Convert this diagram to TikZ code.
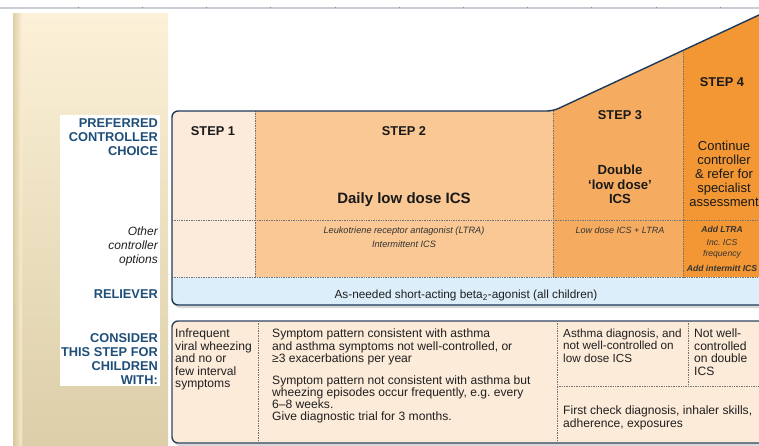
\documentclass[tikz,border=0pt]{standalone}
\usepackage{fontspec}
\setmainfont{Liberation Sans}
\frenchspacing
\newcommand\fs[2]{\fontsize{#1}{#2}\selectfont}
\definecolor{labblue}{HTML}{1F4E79}
\definecolor{navy}{HTML}{1E3A5A}
\definecolor{stepa}{HTML}{FCEADB}
\definecolor{stepb}{HTML}{F9C894}
\definecolor{stepc}{HTML}{F6AC60}
\definecolor{stepd}{HTML}{F39734}
\definecolor{relblue}{HTML}{DCEEF9}
\definecolor{botfill}{HTML}{FDEBDA}
\definecolor{panelA}{HTML}{FCF1D8}
\definecolor{panelB}{HTML}{F6EACD}
\definecolor{panelC}{HTML}{DCCEA8}
\definecolor{stripc}{HTML}{D8C699}
\definecolor{ruler}{HTML}{C9CED6}
\begin{document}
\begin{tikzpicture}[x=1pt,y=-1pt,
  labbf/.style={font=\bfseries\fs{12.8}{14}, text=labblue, align=right, inner sep=0, anchor=north east},
  labit/.style={font=\itshape\fs{12}{14}, text=black!88, align=right, inner sep=0, anchor=north east},
  steplab/.style={font=\bfseries\fs{12.8}{14}, inner sep=0, text=black!90},
  opt/.style={font=\itshape\fs{9.2}{14}, align=center, inner sep=0, anchor=north, text=black!80},
  body/.style={font=\fs{12.1}{12.5}, align=left, inner sep=0, anchor=north west, text=black!88},
  dotline/.style={draw=black!55, densely dotted, line width=0.7},
  boxline/.style={draw=navy, line width=1.4}]
\clip (0,0) rectangle (759,445);
\fill[white] (0,0) rectangle (759,445);
% ruler
\draw[ruler, line width=1.6] (0,8) -- (759,8);
\foreach \t in {0,...,10} \draw[black!45, line width=0.5] ({78+64.2*\t},6.5) -- ({78+64.2*\t},8);
% left panel
\shade[top color=panelA, middle color=panelB, bottom color=panelC] (13,13) rectangle (168,445);
\shade[left color=stripc, right color=panelA, opacity=0.8] (13,13) rectangle (22,445);
\fill[white] (60,115) rectangle (160,386);
% upper box shadow
\fill[black!30, opacity=0.5, rounded corners=6] (174,280) rectangle (782,308);
% upper box fills
\begin{scope}
\clip[rounded corners=6] (172,305) -- (172,111) -- (553,111) -- (780,5.2) -- (780,305) -- cycle;
\fill[stepa] (172,0) rectangle (255,277);
\fill[stepb] (255,0) rectangle (553,277);
\fill[stepc] (553,0) rectangle (683,277);
\fill[stepd] (683,0) rectangle (780,277);
\fill[relblue] (172,277) rectangle (780,305);
\end{scope}
\draw[dotline] (255,111) -- (255,277);
\draw[dotline] (553,111) -- (553,277);
\draw[dotline] (683,50.4) -- (683,277);
\draw[dotline] (172,220) -- (780,220);
\draw[dotline] (172,277) -- (780,277);
\draw[boxline, rounded corners=6] (780,305) -- (172,305) -- (172,111) -- (553,111) -- (780,5.2);
% bottom box
\fill[black!30, opacity=0.5, rounded corners=6] (174,323) rectangle (782,446);
\filldraw[fill=botfill, draw=navy!85!gray, line width=1.4, rounded corners=6] (172,321) rectangle (780,443);
\draw[dotline] (258,321) -- (258,443);
\draw[dotline] (557,321) -- (557,443);
\draw[dotline] (688,321) -- (688,386);
\draw[dotline] (557,386) -- (780,386);
% labels
\node[labbf] (pref) at (158,118.4) {PREFERRED\\CONTROLLER\\CHOICE};
\node[labit] (other) at (158,226.7) {Other\\controller\\options};
\node[labbf, anchor=east] (rel) at (158,294) {RELIEVER};
\node[labbf] (cons) at (158,333.4) {CONSIDER\\THIS STEP FOR\\CHILDREN\\WITH:};
% steps
\node[steplab] (s1) at (213,131) {STEP 1};
\node[steplab] (s2) at (404,131) {STEP 2};
\node[steplab] (s3) at (620,115) {STEP 3};
\node[steplab] (s4) at (722,82) {STEP 4};
\node[font=\bfseries\fs{15}{18}, inner sep=0, anchor=base, text=black!90] (daily) at (404,203.4) {Daily low dose ICS};
\node[font=\bfseries\fs{13.2}{14.5}, align=center, inner sep=0, anchor=north, text=black!90] (dbl) at (620,165.2) {Double\\`low dose'\\ICS};
\node[font=\fs{13}{14}, align=center, inner sep=0, anchor=north, text=black!90] (cont) at (724,141.3) {Continue\\controller\\\& refer for\\specialist\\assessment};
% other options
\node[opt] (ltra) at (404,226.7) {Leukotriene receptor antagonist (LTRA)\\Intermittent ICS};
\node[opt, font=\itshape\fs{9}{14}] (lowltra) at (620,226.7) {Low dose ICS + LTRA};
\node[font=\bfseries\itshape\fs{8.6}{10}, inner sep=0, anchor=base, text=black!80] (addltra) at (722,232) {Add LTRA};
\node[font=\itshape\fs{8.6}{11.5}, align=center, inner sep=0, anchor=north, text=black!80] (inc) at (722,239) {Inc. ICS\\frequency};
\node[font=\bfseries\itshape\fs{8.6}{10}, inner sep=0, anchor=base, text=black!80] (addint) at (722,271) {Add intermitt ICS};
% reliever
\node[font=\fs{11.8}{14}, inner sep=0, anchor=base, text=black!88] (relt) at (466,298.2) {As-needed short-acting beta\textsubscript{2}-agonist (all children)};
% consider
\node[body] (c1) at (175,328.7) {Infrequent\\viral wheezing\\and no or\\few interval\\symptoms};
\node[body] (c2a) at (272,328.7) {Symptom pattern consistent with asthma\\and asthma symptoms not well-controlled, or\\≥3 exacerbations per year};
\node[body, font=\fs{12.1}{12}] (c2b) at (272,375.7) {Symptom pattern not consistent with asthma but\\wheezing episodes occur frequently, e.g. every\\6–8 weeks.\\Give diagnostic trial for 3 months.};
\node[body, font=\fs{11.7}{12.5}] (c3) at (563,328.8) {Asthma diagnosis, and\\not well-controlled on\\low dose ICS};
\node[body] (c4) at (694,328.7) {Not well-\\controlled\\on double\\ICS};
\node[body] (c5) at (563,405.7) {First check diagnosis, inhaler skills,\\adherence, exposures};
\end{tikzpicture}
\end{document}
